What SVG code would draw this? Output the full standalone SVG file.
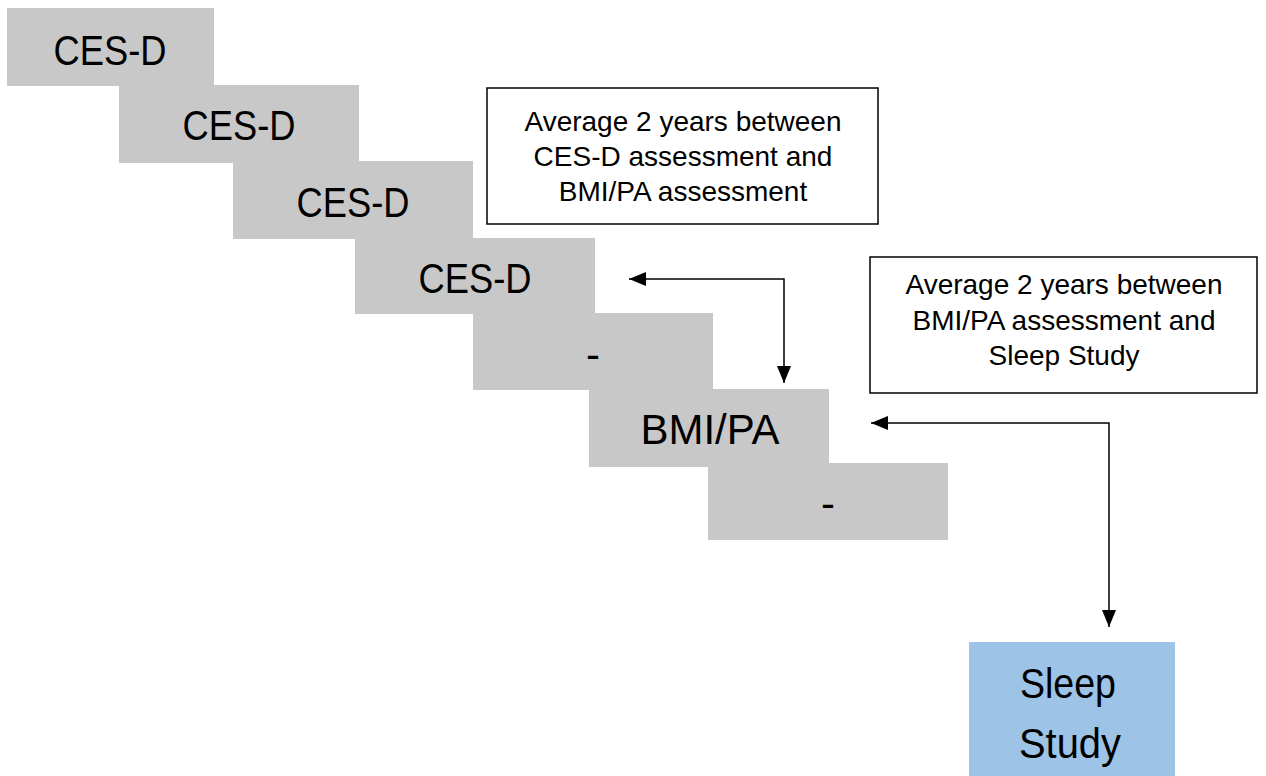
<svg xmlns="http://www.w3.org/2000/svg" width="1266" height="776" viewBox="0 0 1266 776">
  <style>
    .step { fill: #C8C8C8; }
    .big { font-family: "Liberation Sans", Arial, sans-serif; font-size: 42px; fill: #000; text-anchor: middle; }
    .note { fill: #FFFFFF; stroke: #000; stroke-width: 1.5; }
    .small { font-family: "Liberation Sans", Arial, sans-serif; font-size: 28px; fill: #000; text-anchor: middle; }
    .conn { fill: none; stroke: #000; stroke-width: 1.5; }
  </style>
  <defs>
    <marker id="arrow" viewBox="0 0 17 14" refX="17" refY="7" markerWidth="17" markerHeight="14" markerUnits="userSpaceOnUse" orient="auto-start-reverse">
      <path d="M0,0 L17,7 L0,14 z" fill="#000"/>
    </marker>
  </defs>
  <rect width="1266" height="776" fill="#FFFFFF"/>

  <g id="step1">
    <rect class="step" x="7" y="8" width="207" height="78"/>
    <text class="big" x="110" y="65" textLength="113" lengthAdjust="spacingAndGlyphs">CES-D</text>
  </g>
  <g id="step2">
    <rect class="step" x="119" y="85" width="240" height="78"/>
    <text class="big" x="239" y="140" textLength="113" lengthAdjust="spacingAndGlyphs">CES-D</text>
  </g>
  <g id="step3">
    <rect class="step" x="233" y="161" width="240" height="78"/>
    <text class="big" x="353" y="217" textLength="113" lengthAdjust="spacingAndGlyphs">CES-D</text>
  </g>
  <g id="step4">
    <rect class="step" x="355" y="238" width="240" height="76"/>
    <text class="big" x="475" y="293" textLength="113" lengthAdjust="spacingAndGlyphs">CES-D</text>
  </g>
  <g id="step5">
    <rect class="step" x="473" y="313" width="240" height="77"/>
    <text class="big" x="593" y="369">-</text>
  </g>
  <g id="step6">
    <rect class="step" x="589" y="389" width="240" height="78"/>
    <text class="big" x="710" y="444">BMI/PA</text>
  </g>
  <g id="step7">
    <rect class="step" x="708" y="463" width="240" height="77"/>
    <text class="big" x="828" y="518">-</text>
  </g>

  <g id="note1">
    <rect class="note" x="487" y="88" width="391" height="136"/>
    <text class="small" x="683" y="131">Average 2 years between</text>
    <text class="small" x="683" y="166">CES-D assessment and</text>
    <text class="small" x="683" y="201">BMI/PA assessment</text>
  </g>
  <g id="note2">
    <rect class="note" x="870" y="257" width="387" height="136"/>
    <text class="small" x="1064" y="294">Average 2 years between</text>
    <text class="small" x="1064" y="330">BMI/PA assessment and</text>
    <text class="small" x="1064" y="365">Sleep Study</text>
  </g>

  <g id="sleep-study">
    <rect x="969" y="642" width="206" height="134" fill="#9DC3E6"/>
    <text class="big" x="1068" y="698" textLength="96" lengthAdjust="spacingAndGlyphs">Sleep</text>
    <text class="big" x="1070" y="758" textLength="102" lengthAdjust="spacingAndGlyphs">Study</text>
  </g>

  <g id="connectors">
    <path class="conn" d="M629,279 H784 V383" marker-start="url(#arrow)" marker-end="url(#arrow)"/>
    <path class="conn" d="M871,423 H1109 V627" marker-start="url(#arrow)" marker-end="url(#arrow)"/>
  </g>
</svg>
